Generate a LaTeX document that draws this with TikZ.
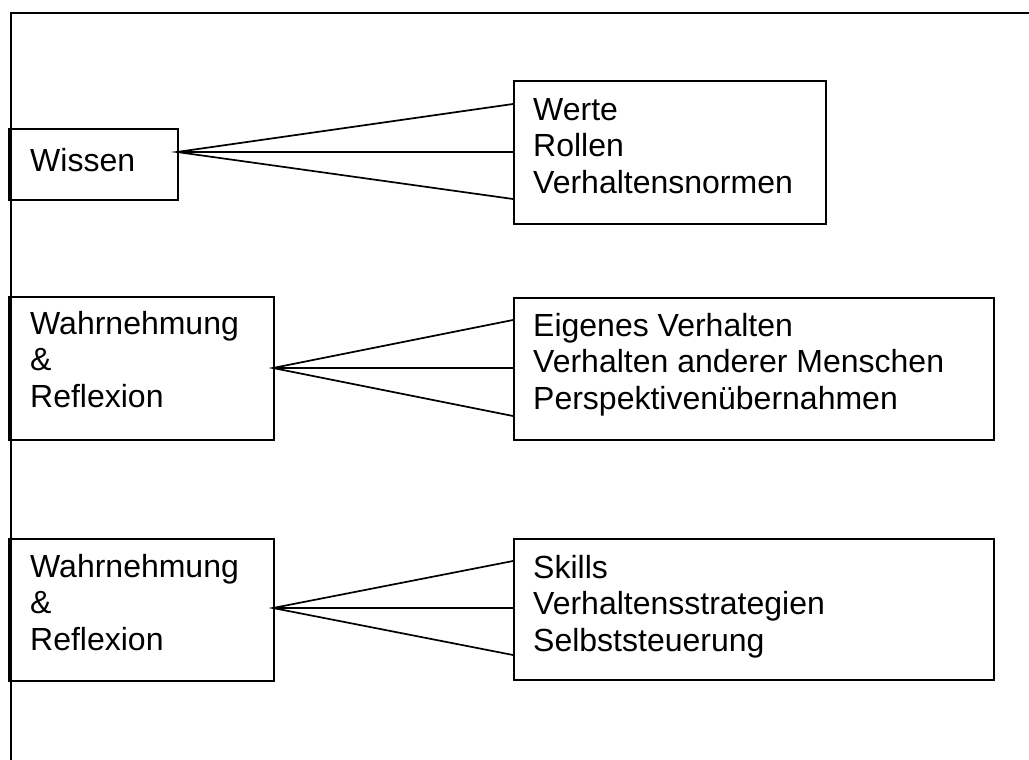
\documentclass[tikz,border=0pt]{standalone}
\usepackage{fontspec}
\setmainfont{Liberation Sans}
\begin{document}
\begin{tikzpicture}[x=1pt,y=-1pt,
  box/.style={draw, line width=1.9pt, inner sep=0pt, anchor=north west},
  txt/.style={anchor=base west, inner sep=0pt, align=left, font=\fontsize{32}{36.5}\selectfont},
  conn/.style={line width=1.7pt},
  frame/.style={line width=2.3pt}]
\useasboundingbox (0,0) rectangle (1029,760);
% outer frame
\coordinate (fl) at (11,760);
\coordinate (fc) at (11,13);
\coordinate (fr) at (1029,13);
\draw[frame] (fl) -- (fc) -- (fr);
% row 1
\node[box, minimum width=169pt, minimum height=71pt] (b1l) at (8,128) {};
\node[box, minimum width=312pt, minimum height=143pt] (b1r) at (513,80) {};
\node[txt] (t1l) at (30,171) {Wissen};
\node[txt] (t1r) at (533,193) {Werte\\Rollen\\Verhaltensnormen};
\coordinate (o1) at (177,152);
\coordinate (e1a) at (513,104);
\coordinate (e1b) at (513,152);
\coordinate (e1c) at (513,199);
\draw[conn] (e1a) -- (o1) -- (e1c) (o1) -- (e1b);
% row 2
\node[box, minimum width=265pt, minimum height=143pt] (b2l) at (8,296) {};
\node[box, minimum width=480pt, minimum height=142pt] (b2r) at (513,297) {};
\node[txt] (t2l) at (30,407) {Wahrnehmung\\\&\\Reflexion};
\node[txt] (t2r) at (533,409) {Eigenes Verhalten\\Verhalten anderer Menschen\\Perspektivenübernahmen};
\coordinate (o2) at (273,368);
\coordinate (e2a) at (513,320);
\coordinate (e2b) at (513,368);
\coordinate (e2c) at (513,416);
\draw[conn] (e2a) -- (o2) -- (e2c) (o2) -- (e2b);
% row 3
\node[box, minimum width=265pt, minimum height=142pt] (b3l) at (8,538) {};
\node[box, minimum width=480pt, minimum height=141pt] (b3r) at (513,538) {};
\node[txt] (t3l) at (30,650) {Wahrnehmung\\\&\\Reflexion};
\node[txt] (t3r) at (533,651) {Skills\\Verhaltensstrategien\\Selbststeuerung};
\coordinate (o3) at (273,608);
\coordinate (e3a) at (513,561);
\coordinate (e3b) at (513,608);
\coordinate (e3c) at (513,655);
\draw[conn] (e3a) -- (o3) -- (e3c) (o3) -- (e3b);
\end{tikzpicture}
\end{document}
